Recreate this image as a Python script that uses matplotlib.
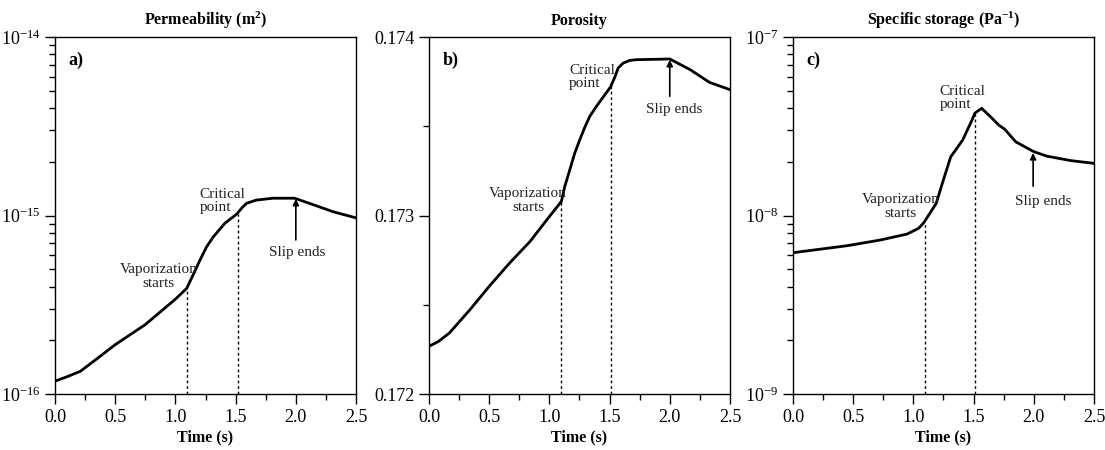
import matplotlib
matplotlib.use("Agg")
import matplotlib.pyplot as plt
from matplotlib.ticker import MultipleLocator, FixedLocator, LogLocator, NullFormatter

plt.rcParams['font.family'] = 'Liberation Serif'
plt.rcParams['mathtext.fontset'] = 'custom'
plt.rcParams['mathtext.rm'] = 'Liberation Serif'
plt.rcParams['mathtext.it'] = 'Liberation Serif:italic'
plt.rcParams['mathtext.bf'] = 'Liberation Serif:bold'

# ---- data ----
perm_t = [0.0, 0.1, 0.21, 0.35, 0.5, 0.75, 1.0, 1.094, 1.15, 1.204, 1.26, 1.315,
          1.37, 1.41, 1.51, 1.55, 1.59, 1.67, 1.81, 1.99, 2.145, 2.31, 2.5]
perm_k = [1.18e-16, 1.25e-16, 1.34e-16, 1.58e-16, 1.89e-16, 2.45e-16, 3.4e-16, 3.91e-16,
          4.7e-16, 5.63e-16, 6.7e-16, 7.6e-16, 8.4e-16, 9.04e-16, 1.02e-15, 1.1e-15,
          1.17e-15, 1.22e-15, 1.25e-15, 1.25e-15, 1.15e-15, 1.05e-15, 0.97e-15]

poro_t = [0.0, 0.08, 0.17, 0.34, 0.5, 0.67, 0.84, 0.98, 1.10, 1.128, 1.17, 1.211,
          1.253, 1.294, 1.336, 1.391, 1.447, 1.508, 1.544, 1.571, 1.613, 1.668,
          1.72, 2.0, 2.17, 2.33, 2.5]
poro_phi = [0.172267, 0.172295, 0.172342, 0.172472, 0.172603, 0.172734, 0.172855,
            0.172977, 0.173079, 0.173163, 0.173257, 0.173350, 0.173425, 0.173494,
            0.173556, 0.173612, 0.173664, 0.173720, 0.173776, 0.173826, 0.173854,
            0.173869, 0.173873, 0.173877, 0.173817, 0.173746, 0.173705]

stor_t = [0.0, 0.447, 0.725, 0.947, 1.044, 1.086, 1.19, 1.24, 1.31, 1.41, 1.49,
          1.51, 1.567, 1.64, 1.71, 1.76, 1.85, 2.0, 2.11, 2.31, 2.5]
stor_s = [6.19e-9, 6.77e-9, 7.29e-9, 7.87e-9, 8.48e-9, 9.1e-9, 1.17e-8, 1.51e-8,
          2.13e-8, 2.65e-8, 3.46e-8, 3.74e-8, 3.99e-8, 3.58e-8, 3.21e-8, 3.04e-8,
          2.59e-8, 2.28e-8, 2.15e-8, 2.03e-8, 1.96e-8]

# event markers: (time, curve value) for vaporization start and critical point
perm_events = [(1.10, 3.9e-16), (1.52, 1.02e-15)]
poro_events = [(1.10, 0.173079), (1.51, 0.173724)]
stor_events = [(1.094, 9.2e-9), (1.512, 3.7e-8)]

fig = plt.figure(figsize=(11.05, 4.5), dpi=100)
ax_a = fig.add_axes([0.0498, 0.1244, 0.2724, 0.7933])
ax_b = fig.add_axes([0.3882, 0.1244, 0.2724, 0.7933])
ax_c = fig.add_axes([0.7176, 0.1244, 0.2724, 0.7933])


def style_axis(ax, title, label):
    ax.set_xlim(0, 2.5)
    ax.xaxis.set_major_locator(MultipleLocator(0.5))
    ax.xaxis.set_minor_locator(MultipleLocator(0.25))
    ax.xaxis.set_major_formatter(plt.FormatStrFormatter('%.1f'))
    ax.tick_params(which='major', direction='out', length=7, width=1.0, labelsize=13)
    ax.tick_params(which='minor', direction='out', length=4, width=1.0)
    for s in ax.spines.values():
        s.set_linewidth(1.0)
    ax.set_title(title, fontsize=11.5, fontweight='bold', pad=9)
    ax.set_xlabel('Time (s)', fontsize=11.5, fontweight='bold', labelpad=3)
    ax.text(0.045, 0.935, label, transform=ax.transAxes, fontsize=13,
            fontweight='bold', ha='left', va='center')


def log_axis(ax, lo, hi):
    ax.set_yscale('log')
    ax.set_ylim(lo, hi)
    ax.yaxis.set_major_locator(FixedLocator([lo, lo * 10, hi]))
    ax.yaxis.set_minor_locator(LogLocator(base=10, subs=range(2, 10), numticks=10))
    ax.yaxis.set_minor_formatter(NullFormatter())


def annotate(ax, events, vap_xy, crit_xy, slip_xy, slip_tip, ymin):
    for t, v in events:
        ax.plot([t, t], [ymin, v], linestyle=(0, (2, 2)), color='black', lw=1.0)
    ax.text(vap_xy[0], vap_xy[1], 'Vaporization\nstarts', fontsize=11,
            ha='center', va='center', multialignment='center', color='#222222',
            linespacing=1.05)
    ax.text(crit_xy[0], crit_xy[1], 'Critical\npoint', fontsize=11,
            ha='left', va='center', multialignment='left', color='#222222',
            linespacing=1.05)
    ax.text(slip_xy[0], slip_xy[1], 'Slip ends', fontsize=11,
            ha='center', va='center', color='#222222')
    ax.annotate('', xy=slip_tip, xytext=(slip_tip[0], slip_xy[2]),
                arrowprops=dict(arrowstyle='-|>', color='black', lw=1.2,
                                mutation_scale=9, shrinkA=0, shrinkB=0))


# a) permeability
ax_a.plot(perm_t, perm_k, color='black', lw=2.0)
log_axis(ax_a, 1e-16, 1e-14)
style_axis(ax_a, r'Permeability (m$\mathbf{^2}$)', 'a)')
annotate(ax_a, perm_events, (0.86, 4.56e-16), (1.20, 1.21e-15),
         (2.015, 6.2e-16, 7.3e-16), (2.0, 1.24e-15), 1e-16)

# b) porosity
ax_b.plot(poro_t, poro_phi, color='black', lw=2.0)
ax_b.set_ylim(0.172, 0.174)
ax_b.yaxis.set_major_locator(MultipleLocator(0.001))
ax_b.yaxis.set_minor_locator(MultipleLocator(0.0005))
ax_b.yaxis.set_major_formatter(plt.FormatStrFormatter('%.3f'))
style_axis(ax_b, 'Porosity', 'b)')
annotate(ax_b, poro_events, (0.823, 0.173083), (1.164, 0.173776),
         (2.037, 0.173593, 0.173668), (2.0, 0.173872), 0.172)

# c) specific storage
ax_c.plot(stor_t, stor_s, color='black', lw=2.0)
log_axis(ax_c, 1e-9, 1e-7)
style_axis(ax_c, r'Specific storage (Pa$\mathbf{^{-1}}$)', 'c)')
annotate(ax_c, stor_events, (0.896, 1.12e-8), (1.219, 4.55e-8),
         (2.08, 1.2e-8, 1.46e-8), (1.995, 2.24e-8), 1e-9)

fig.savefig('out.png', dpi=100)
